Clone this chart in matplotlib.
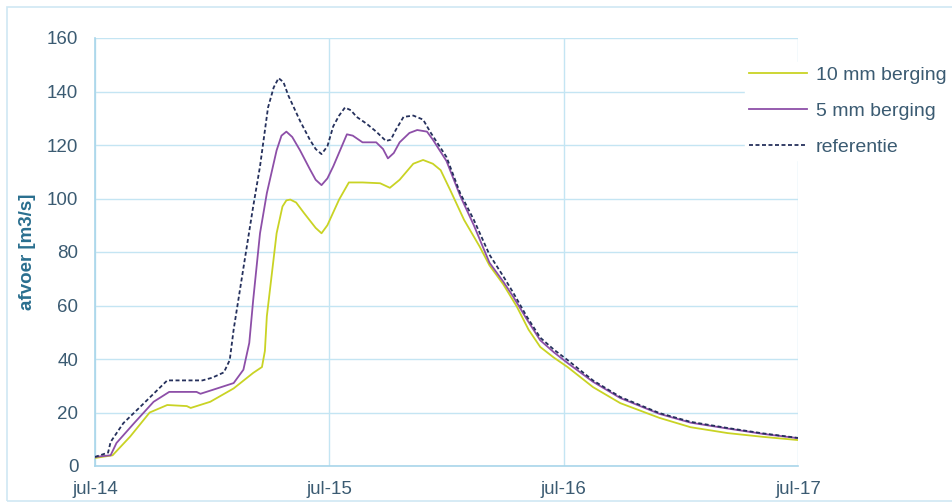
import matplotlib
matplotlib.use("Agg")
import matplotlib.pyplot as plt
from matplotlib.patches import Rectangle

plt.rcParams['font.family'] = ['Liberation Sans', 'DejaVu Sans']

# x in months since jul-14
x_ref = [0, 0.67, 0.8, 1.45, 2.3, 3.0, 3.7, 4.5, 5.5, 6.0, 6.6, 6.9, 7.1, 7.6, 8.1, 8.45, 8.86,
         9.15, 9.4, 9.65, 9.9, 10.5, 11.0, 11.3, 11.6, 11.9, 12.2, 12.5, 12.8, 13.1, 13.4, 13.9,
         14.4, 14.9, 15.15, 15.4, 15.8, 16.3, 16.8, 17.2, 17.6, 18.0, 18.7, 19.4, 20.2, 20.9,
         21.4, 22.1, 22.8, 23.5, 24.2, 25.5, 26.9, 28.9, 30.5, 32.4, 34.2, 36]
y_ref = [3.4, 5, 9, 16, 22, 27, 32, 32, 32, 33, 35, 39.6, 51, 74, 97, 112, 134,
         141.5, 145, 143.5, 138.5, 129, 122, 118.5, 116.6, 119.5, 127, 131, 134, 133, 130.5, 128,
         125, 121.5, 122, 125.6, 130.5, 131, 129.5, 124.5, 120, 115.5, 102, 92, 79, 71,
         65, 56, 48, 43.5, 39.6, 32, 25.8, 19.8, 16.5, 14.2, 12.2, 10.5]

x_5mm = [0, 0.8, 1.1, 2.0, 3.0, 3.8, 4.5, 5.2, 5.4, 6.0, 7.1, 7.6, 7.9, 8.1, 8.45, 8.8, 9.3,
         9.55, 9.8, 10.1, 10.5, 11.0, 11.3, 11.6, 11.9, 12.2, 12.9, 13.2, 13.7, 14.4, 14.75,
         15.0, 15.3, 15.6, 16.1, 16.5, 17.0, 17.3, 18.0, 18.7, 19.4, 20.2, 20.9, 21.4, 22.1,
         22.8, 23.5, 24.2, 25.5, 26.9, 28.9, 30.5, 32.4, 34.2, 36]
y_5mm = [3.4, 4, 8.6, 16, 24, 27.7, 27.7, 27.7, 27, 28.4, 31, 36, 46, 62, 87, 102, 118,
         123.5, 125, 123, 118, 111, 107, 105, 107.5, 112, 124, 123.5, 121, 121, 118.5,
         115, 117, 121, 124.5, 125.6, 125, 122, 114, 101, 90, 76, 69, 63.5, 55,
         47, 42.5, 38.5, 31.5, 25.4, 19.5, 16.2, 14, 12, 10.4]

x_10mm = [0, 0.9, 1.8, 2.8, 3.7, 4.7, 4.9, 5.9, 7.1, 8.1, 8.55, 8.7, 8.8, 9.3, 9.6, 9.8,
          10.0, 10.3, 10.7, 11.3, 11.6, 11.9, 12.5, 13.0, 13.7, 14.6, 15.1, 15.6, 16.3, 16.8,
          17.3, 17.7, 18.2, 18.9, 19.7, 20.2, 20.9, 21.6, 22.2, 22.8, 23.5, 24.2, 25.5, 26.9,
          28.9, 30.5, 32.4, 34.2, 36]
y_10mm = [3, 4, 11, 20, 22.8, 22.4, 21.7, 24, 29, 34.8, 37, 43, 56, 87, 97, 99.3,
          99.6, 98.5, 94.6, 89, 87, 90, 99.6, 106, 106, 105.7, 104, 107, 113, 114.4,
          113, 110.6, 103, 92, 82, 75, 68, 59.6, 51, 44.5, 40.5, 37, 29.5, 23.5,
          18, 14.5, 12.3, 10.9, 9.7]

tick_pos = [0, 12, 24, 36]
tick_labels = ["jul-14", "jul-15", "jul-16", "jul-17"]
y_ticks = [0, 20, 40, 60, 80, 100, 120, 140, 160]

grid_c = "#c4e5f3"
text_c = "#3b5b72"

fig = plt.figure(figsize=(9.52, 5.04), dpi=100)
ax = fig.add_axes([95/952, 38/504, (798-95)/952, (466-38)/504])

ax.plot(x_10mm, y_10mm, color="#c9d324", lw=1.3, label="10 mm berging", zorder=3)
ax.plot(x_5mm, y_5mm, color="#8d4fa8", lw=1.3, label="5 mm berging", zorder=4)
ax.plot(x_ref, y_ref, color="#25305c", lw=1.3, ls=(0, (2.2, 1.4)), label="referentie", zorder=5)

ax.set_xlim(0, 36)
ax.set_ylim(0, 160)
ax.set_xticks(tick_pos)
ax.set_xticklabels(tick_labels)
ax.set_yticks(y_ticks)
ax.grid(True, color=grid_c, lw=1.0)
ax.set_axisbelow(True)
for s in ["top", "right"]:
    ax.spines[s].set_visible(False)
for s in ["left", "bottom"]:
    ax.spines[s].set_color("#a9d6ea")
    ax.spines[s].set_linewidth(1.2)
ax.tick_params(axis="both", length=0, labelsize=13.5, colors=text_c)
ax.tick_params(axis="y", pad=12)
ax.tick_params(axis="x", pad=11)
ax.set_ylabel("afvoer [m3/s]", fontsize=13.5, fontweight="bold", color="#2a6f8f", labelpad=8)

leg = ax.legend(loc="upper left", bbox_to_anchor=(745/952, (504-62)/504), bbox_transform=fig.transFigure,
                frameon=True, fontsize=14, handlelength=3.0, handletextpad=0.45,
                labelspacing=0.95, borderpad=0.2, borderaxespad=0)
leg.get_frame().set_facecolor("white")
leg.get_frame().set_edgecolor("white")
leg.get_frame().set_alpha(1)
for t in leg.get_texts():
    t.set_color(text_c)

fig.patches.append(Rectangle((7/952, 3/504), 1.0, (504-10)/504, transform=fig.transFigure,
                             fill=False, edgecolor="#cfe8f3", lw=1.2))

fig.savefig("out.png", dpi=100)
